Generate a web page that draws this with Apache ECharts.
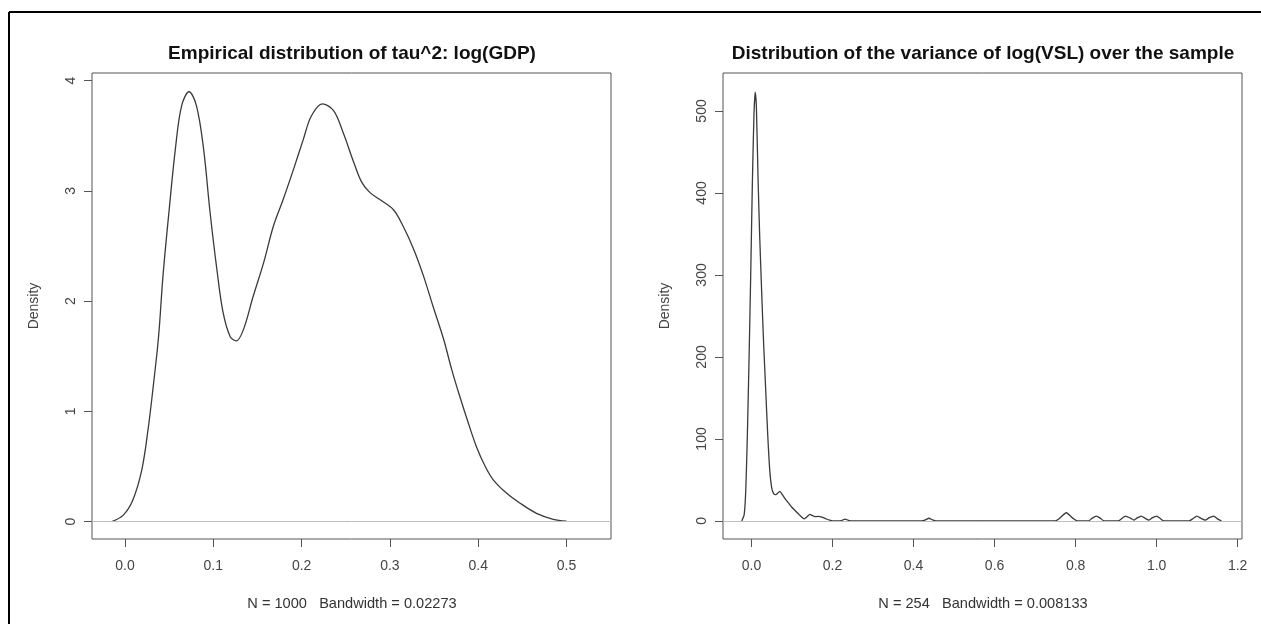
<!DOCTYPE html>
<html>
<head>
<meta charset="utf-8">
<script src="https://cdn.jsdelivr.net/npm/echarts@6.0.0/dist/echarts.min.js"></script>
<style>
  html, body { margin: 0; padding: 0; background: #fff; }
  #main { width: 1261px; height: 624px; }
</style>
</head>
<body>
<div id="main"></div>
<script>
// left panel: density of tau^2, log(GDP)
var gdpX = [-0.015, -0.002, 0.009, 0.019, 0.026, 0.032, 0.038, 0.043, 0.050, 0.057,
  0.064, 0.0725, 0.081, 0.089, 0.096, 0.104, 0.111, 0.119, 0.126, 0.134,
  0.145, 0.157, 0.168, 0.179, 0.191, 0.202, 0.211, 0.2235, 0.236, 0.247,
  0.259, 0.268, 0.2775, 0.289, 0.304, 0.315, 0.327, 0.338, 0.349, 0.361,
  0.370, 0.379, 0.389, 0.398, 0.408, 0.417, 0.432, 0.447, 0.466, 0.485, 0.500];
var gdpY = [0, 0.06, 0.20, 0.47, 0.83, 1.23, 1.68, 2.23, 2.83, 3.38,
  3.77, 3.90, 3.77, 3.38, 2.83, 2.29, 1.90, 1.68, 1.64, 1.74,
  2.04, 2.35, 2.68, 2.92, 3.20, 3.47, 3.68, 3.79, 3.73, 3.53,
  3.26, 3.08, 2.985, 2.92, 2.83, 2.68, 2.47, 2.23, 1.95, 1.65,
  1.38, 1.14, 0.89, 0.68, 0.50, 0.38, 0.26, 0.17, 0.076, 0.022, 0.005];

// right panel: density of the variance of log(VSL)
var vslX = [-0.024, -0.018, -0.014, -0.010, -0.006, -0.002, 0.002, 0.006, 0.009, 0.012,
  0.016, 0.020, 0.025, 0.030, 0.035, 0.040, 0.045, 0.050, 0.055, 0.060,
  0.065, 0.070, 0.076, 0.083, 0.091, 0.099, 0.107, 0.115, 0.123, 0.130,
  0.137, 0.144, 0.150, 0.157, 0.163, 0.169, 0.177, 0.185, 0.193, 0.200,
  0.215, 0.222, 0.231, 0.241, 0.250, 0.420, 0.430, 0.438, 0.446, 0.455,
  0.750, 0.760, 0.777, 0.794, 0.805, 0.832, 0.840, 0.851, 0.862, 0.870,
  0.905, 0.914, 0.923, 0.935, 0.944, 0.953, 0.962, 0.972, 0.981, 0.990,
  1.000, 1.009, 1.018, 1.080, 1.090, 1.099, 1.110, 1.120, 1.130, 1.141,
  1.150, 1.160];
var vslY = [0, 8, 40, 110, 200, 300, 410, 495, 523, 505,
  420, 350, 280, 215, 160, 105, 62, 40, 33, 32,
  34, 36, 32, 27, 22, 17, 13, 9, 5, 2.5,
  5, 8, 6.5, 5.3, 5.5, 5.3, 4, 2.4, 1, 0.2,
  0, 0.5, 2.2, 0.5, 0, 0, 1.5, 3.3, 1.5, 0,
  0, 3, 10, 3, 0, 0, 3, 6, 3, 0,
  0, 3, 6, 3.5, 1, 4, 6, 3, 1, 4,
  6, 3, 0, 0, 3, 6, 3, 1, 4, 6,
  2.5, 0];

var gdpTicksX = [0, 0.1, 0.2, 0.3, 0.4, 0.5];
var gdpTicksY = [0, 1, 2, 3, 4];
var vslTicksX = [0, 0.2, 0.4, 0.6, 0.8, 1.0, 1.2];
var vslTicksY = [0, 100, 200, 300, 400, 500];

var titles = ['Empirical distribution of tau^2: log(GDP)',
  'Distribution of the variance of log(VSL) over the sample'];
var subs = ['N = 1000   Bandwidth = 0.02273', 'N = 254   Bandwidth = 0.008133'];

var FONT = '"Liberation Sans", Arial, sans-serif';
var lineColor = '#3a3a3a';

function pairs(xs, ys) {
  return xs.map(function (x, i) { return [x, ys[i]]; });
}

function xAxisFor(idx, min, max, ticks) {
  return {
    type: 'value', gridIndex: idx, min: min, max: max,
    axisLine: { show: false, onZero: false },
    axisTick: { show: true, inside: false, length: 8, customValues: ticks,
      lineStyle: { color: '#555', width: 1 } },
    axisLabel: { customValues: ticks, margin: 20, color: '#444', fontSize: 14, fontFamily: FONT,
      formatter: function (v) { return v.toFixed(1); } },
    splitLine: { show: false }
  };
}

function yAxisFor(idx, min, max, ticks) {
  return {
    type: 'value', gridIndex: idx, min: min, max: max,
    name: 'Density', nameLocation: 'middle', nameGap: 51,
    nameTextStyle: { color: '#444', fontSize: 14, fontFamily: FONT },
    axisLine: { show: false, onZero: false },
    axisTick: { show: true, inside: false, length: 8, customValues: ticks,
      lineStyle: { color: '#555', width: 1 } },
    axisLabel: { customValues: ticks, rotate: 90, margin: 14, color: '#444', fontSize: 14, fontFamily: FONT },
    splitLine: { show: false }
  };
}

var zeroLine = {
  silent: true, symbol: 'none',
  label: { show: false },
  lineStyle: { color: '#bebebe', type: 'solid', width: 1 },
  data: [{ yAxis: 0 }]
};

var graphics = [
  { type: 'line', shape: { x1: 9, y1: 12, x2: 1261, y2: 12 }, style: { stroke: '#000', lineWidth: 2 } },
  { type: 'line', shape: { x1: 9, y1: 12, x2: 9, y2: 624 }, style: { stroke: '#000', lineWidth: 2 } }
];
var centers = [352, 983];
for (var k = 0; k < 2; k++) {
  graphics.push({ type: 'text', x: centers[k], y: 54,
    style: { text: titles[k], font: 'bold 19px ' + FONT, fill: '#111',
      textAlign: 'center', textVerticalAlign: 'middle' } });
  graphics.push({ type: 'text', x: centers[k], y: 604,
    style: { text: subs[k], font: '14.6px ' + FONT, fill: '#333',
      textAlign: 'center', textVerticalAlign: 'middle' } });
}

var option = {
  backgroundColor: '#fff',
  animation: false,
  grid: [
    { left: 92, top: 73, width: 519, height: 466, show: true, borderColor: '#555', borderWidth: 1 },
    { left: 723, top: 73, width: 519, height: 466, show: true, borderColor: '#555', borderWidth: 1 }
  ],
  xAxis: [
    xAxisFor(0, -0.0374, 0.5504, gdpTicksX),
    xAxisFor(1, -0.0704, 1.2107, vslTicksX)
  ],
  yAxis: [
    yAxisFor(0, -0.157, 4.070, gdpTicksY),
    yAxisFor(1, -22, 546.3, vslTicksY)
  ],
  graphic: graphics,
  series: [
    {
      type: 'line', xAxisIndex: 0, yAxisIndex: 0,
      data: pairs(gdpX, gdpY),
      smooth: 0.35, symbol: 'none',
      lineStyle: { color: lineColor, width: 1.3 },
      markLine: zeroLine
    },
    {
      type: 'line', xAxisIndex: 1, yAxisIndex: 1,
      data: pairs(vslX, vslY),
      smooth: 0.2, symbol: 'none',
      lineStyle: { color: lineColor, width: 1.3 },
      markLine: zeroLine
    }
  ]
};

var myChart = echarts.init(document.getElementById('main'));
myChart.setOption(option);
</script>
</body>
</html>
